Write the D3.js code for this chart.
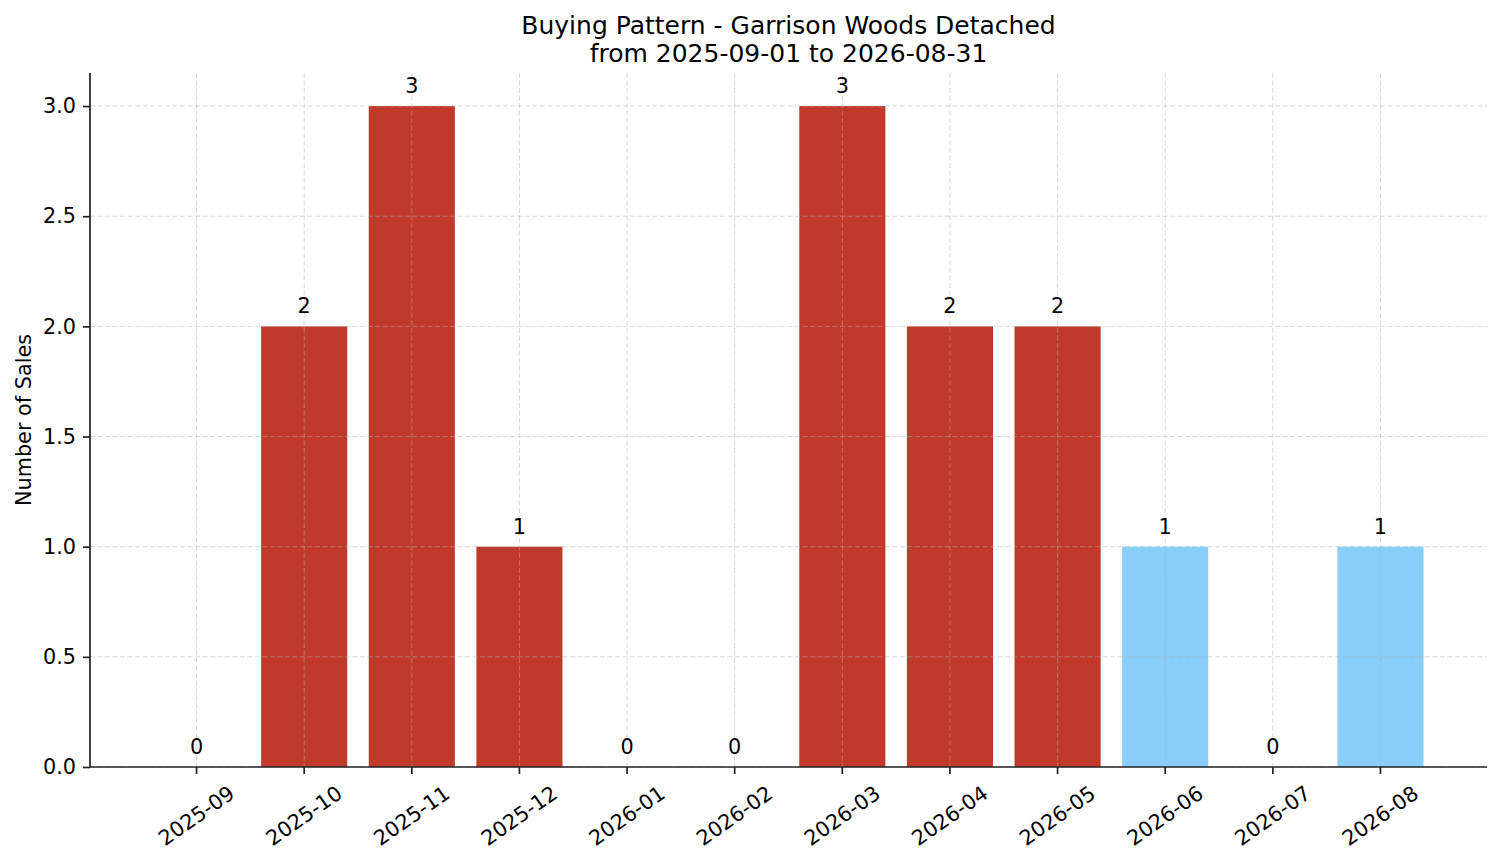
<!DOCTYPE html>
<html>
<head>
<meta charset="utf-8">
<script src="https://cdn.jsdelivr.net/npm/d3@7"></script>
<style>
  body { margin: 0; background: #fff; }
  text { font-family: "DejaVu Sans", sans-serif; fill: #000; }
</style>
</head>
<body>
<div id="container"></div>
<script>
let w = 1501;
let h = 863;
let padLeft = 90, padRight = 1487, padTop = 73, padBottom = 767;

// data
let months = ["2025-09", "2025-10", "2025-11", "2025-12", "2026-01", "2026-02",
  "2026-03", "2026-04", "2026-05", "2026-06", "2026-07", "2026-08"];
let sales = [0, 2, 3, 1, 0, 0, 3, 2, 2, 1, 0, 1];
let group = ["past", "past", "past", "past", "past", "past",
  "past", "past", "past", "recent", "recent", "recent"];
let yTicks = [0, 0.5, 1.0, 1.5, 2.0, 2.5, 3.0];
let titleLines = ["Buying Pattern - Garrison Woods Detached", "from 2025-09-01 to 2026-08-31"];

let viz = d3.select("#container")
  .append("svg")
  .attr("width", w)
  .attr("height", h)
  .style("background", "#fff");

let xScale = d3.scaleBand().domain(months).range([padLeft, padRight])
  .paddingInner(0.2).paddingOuter(0.59);
let yScale = d3.scaleLinear().domain([0, 3.15]).range([padBottom, padTop]);
let color = d3.scaleOrdinal().domain(["past", "recent"]).range(["#c0392b", "#87cefa"]);

// bars
viz.append("g").selectAll("rect")
  .data(months)
  .enter()
  .append("rect")
  .attr("x", d => xScale(d))
  .attr("width", xScale.bandwidth())
  .attr("y", (d, i) => yScale(sales[i]))
  .attr("height", (d, i) => yScale(0) - yScale(sales[i]))
  .attr("fill", (d, i) => color(group[i]));

// grid (drawn above bars, like matplotlib default)
let grid = viz.append("g").attr("class", "grid");
grid.selectAll(".gy").data(yTicks).enter().append("line")
  .attr("x1", padLeft).attr("x2", padRight)
  .attr("y1", d => yScale(d)).attr("y2", d => yScale(d))
  .attr("stroke", "#b0b0b0").attr("stroke-opacity", 0.55)
  .attr("stroke-width", 0.9).attr("stroke-dasharray", "5,2.5");
grid.selectAll(".gx").data(months).enter().append("line")
  .attr("x1", d => xScale(d) + xScale.bandwidth() / 2)
  .attr("x2", d => xScale(d) + xScale.bandwidth() / 2)
  .attr("y1", padTop).attr("y2", padBottom)
  .attr("stroke", "#b0b0b0").attr("stroke-opacity", 0.55)
  .attr("stroke-width", 0.9).attr("stroke-dasharray", "5,2.5");

// value labels
viz.append("g").selectAll("text")
  .data(months)
  .enter()
  .append("text")
  .attr("x", d => xScale(d) + xScale.bandwidth() / 2)
  .attr("y", (d, i) => yScale(sales[i]) - 13)
  .attr("text-anchor", "middle")
  .style("font-size", "20.8px")
  .text((d, i) => sales[i]);

// y axis
let yAxisGroup = viz.append("g").attr("class", "yaxis")
  .attr("transform", "translate(" + padLeft + ",0)");
yAxisGroup.call(d3.axisLeft(yScale).tickValues(yTicks).tickFormat(d3.format(".1f"))
  .tickSize(7).tickPadding(7));
yAxisGroup.select(".domain").attr("d", "M0," + padTop + "V" + padBottom);

// x axis
let xAxisGroup = viz.append("g").attr("class", "xaxis")
  .attr("transform", "translate(0," + padBottom + ")");
xAxisGroup.call(d3.axisBottom(xScale).tickSize(7).tickPadding(7).tickSizeOuter(0));
xAxisGroup.select(".domain").attr("d", "M" + padLeft + ",0H" + padRight);

viz.selectAll(".yaxis .domain, .xaxis .domain").attr("stroke", "#222").attr("stroke-width", 1.7);
viz.selectAll(".yaxis .tick line, .xaxis .tick line").attr("stroke", "#222").attr("stroke-width", 1.7);
viz.selectAll(".yaxis text, .xaxis text")
  .style("font-family", "DejaVu Sans, sans-serif")
  .style("font-size", "20.8px")
  .attr("fill", "#000");

// rotate x labels by 35 deg, centring the rotated box under each tick
let ang = 35 * Math.PI / 180;
xAxisGroup.selectAll(".tick text").each(function () {
  let t = d3.select(this);
  let len = this.getComputedTextLength();
  let th = 24;
  let boxH = len * Math.sin(ang) + th * Math.cos(ang);
  let cy = 14 + boxH / 2;
  t.attr("y", null).attr("dy", null)
    .attr("text-anchor", "middle")
    .attr("dominant-baseline", "central")
    .attr("transform", "translate(0," + cy + ") rotate(-35)");
});

// y label
viz.append("text")
  .attr("transform", "translate(31," + ((padTop + padBottom) / 2) + ") rotate(-90)")
  .attr("text-anchor", "middle")
  .style("font-size", "20.8px")
  .text("Number of Sales");

// title
viz.append("g").selectAll("text")
  .data(titleLines)
  .enter()
  .append("text")
  .attr("x", (padLeft + padRight) / 2)
  .attr("y", (d, i) => 34 + i * 28)
  .attr("text-anchor", "middle")
  .style("font-size", "25px")
  .text(d => d);
</script>
</body>
</html>
